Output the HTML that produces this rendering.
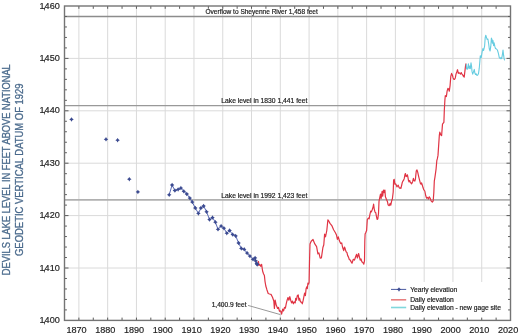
<!DOCTYPE html>
<html><head><meta charset="utf-8"><title>Devils Lake levels</title>
<style>html,body{margin:0;padding:0;background:#fff;width:520px;height:336px;overflow:hidden}svg{display:block;will-change:transform}</style>
</head><body>
<svg width="520" height="336" viewBox="0 0 520 336"><rect width="520" height="336" fill="#fff"/><path d="M78.89 6.0V320.4M107.66 6.0V320.4M136.44 6.0V320.4M165.21 6.0V320.4M193.98 6.0V320.4M222.76 6.0V320.4M251.53 6.0V320.4M280.31 6.0V320.4M309.08 6.0V320.4M337.85 6.0V320.4M366.63 6.0V320.4M395.40 6.0V320.4M424.18 6.0V320.4M452.95 6.0V320.4M481.73 6.0V320.4M64.5 268.00H510.5M64.5 215.60H510.5M64.5 163.20H510.5M64.5 110.80H510.5M64.5 58.40H510.5" stroke="#dadada" stroke-width="1" fill="none"/><rect x="385" y="282" width="124.5" height="37.39999999999998" fill="#fff"/><path d="M64.5 16.48H510.5" stroke="#8c8c8c" stroke-width="1.3" fill="none"/><path d="M64.5 105.56H510.5" stroke="#999" stroke-width="1.3" fill="none"/><path d="M64.5 199.88H510.5" stroke="#b0b0b0" stroke-width="1.6" fill="none"/><path d="M78.89 320.4v-2.8M78.89 6.0v2.8M93.27 320.4v-2.8M93.27 6.0v2.8M107.66 320.4v-2.8M107.66 6.0v2.8M122.05 320.4v-2.8M122.05 6.0v2.8M136.44 320.4v-2.8M136.44 6.0v2.8M150.82 320.4v-2.8M150.82 6.0v2.8M165.21 320.4v-2.8M165.21 6.0v2.8M179.60 320.4v-2.8M179.60 6.0v2.8M193.98 320.4v-2.8M193.98 6.0v2.8M208.37 320.4v-2.8M208.37 6.0v2.8M222.76 320.4v-2.8M222.76 6.0v2.8M237.15 320.4v-2.8M237.15 6.0v2.8M251.53 320.4v-2.8M251.53 6.0v2.8M265.92 320.4v-2.8M265.92 6.0v2.8M280.31 320.4v-2.8M280.31 6.0v2.8M294.69 320.4v-2.8M294.69 6.0v2.8M309.08 320.4v-2.8M309.08 6.0v2.8M323.47 320.4v-2.8M323.47 6.0v2.8M337.85 320.4v-2.8M337.85 6.0v2.8M352.24 320.4v-2.8M352.24 6.0v2.8M366.63 320.4v-2.8M366.63 6.0v2.8M381.02 320.4v-2.8M381.02 6.0v2.8M395.40 320.4v-2.8M395.40 6.0v2.8M409.79 320.4v-2.8M409.79 6.0v2.8M424.18 320.4v-2.8M424.18 6.0v2.8M438.56 320.4v-2.8M438.56 6.0v2.8M452.95 320.4v-2.8M452.95 6.0v2.8M467.34 320.4v-2.8M467.34 6.0v2.8M481.73 320.4v-2.8M481.73 6.0v2.8M496.11 320.4v-2.8M496.11 6.0v2.8M64.5 309.92h2.4M510.5 309.92h-2.4M64.5 299.44h2.4M510.5 299.44h-2.4M64.5 288.96h2.4M510.5 288.96h-2.4M64.5 278.48h2.4M510.5 278.48h-2.4M64.5 268.00h4M510.5 268.00h-4M64.5 257.52h2.4M510.5 257.52h-2.4M64.5 247.04h2.4M510.5 247.04h-2.4M64.5 236.56h2.4M510.5 236.56h-2.4M64.5 226.08h2.4M510.5 226.08h-2.4M64.5 215.60h4M510.5 215.60h-4M64.5 205.12h2.4M510.5 205.12h-2.4M64.5 194.64h2.4M510.5 194.64h-2.4M64.5 184.16h2.4M510.5 184.16h-2.4M64.5 173.68h2.4M510.5 173.68h-2.4M64.5 163.20h4M510.5 163.20h-4M64.5 152.72h2.4M510.5 152.72h-2.4M64.5 142.24h2.4M510.5 142.24h-2.4M64.5 131.76h2.4M510.5 131.76h-2.4M64.5 121.28h2.4M510.5 121.28h-2.4M64.5 110.80h4M510.5 110.80h-4M64.5 100.32h2.4M510.5 100.32h-2.4M64.5 89.84h2.4M510.5 89.84h-2.4M64.5 79.36h2.4M510.5 79.36h-2.4M64.5 68.88h2.4M510.5 68.88h-2.4M64.5 58.40h4M510.5 58.40h-4M64.5 47.92h2.4M510.5 47.92h-2.4M64.5 37.44h2.4M510.5 37.44h-2.4M64.5 26.96h2.4M510.5 26.96h-2.4M64.5 16.48h2.4M510.5 16.48h-2.4" stroke="#5a5a5a" stroke-width="1" fill="none"/><rect x="64.5" y="6.0" width="446.0" height="314.4" fill="none" stroke="#747474" stroke-width="1.4"/><path d="M248 305.4L280.4 314.6" stroke="#8c8c8c" stroke-width="0.9" fill="none"/><polyline points="257.7,261.4 258.5,261.5 258.8,265.3 259.8,264.4 260.7,266.3 261.6,264.4 262.6,271.0 263.5,273.8 264.4,275.6 265.0,281.3 265.8,286.0 266.9,289.7 268.2,293.5 269.5,294.0 271.0,294.4 272.5,297.2 273.8,301.0 274.4,308.5 275.1,300.0 276.3,305.3 277.6,308.5 278.5,307.5 279.5,311.3 280.4,310.8 280.9,311.5 281.6,314.2 282.7,309.1 283.6,310.9 284.5,307.3 285.4,308.2 286.2,303.8 287.1,300.2 288.0,297.5 288.9,300.2 289.8,296.6 290.7,300.2 291.6,302.9 292.5,301.1 293.4,303.8 294.3,302.0 295.2,302.9 295.7,298.4 296.4,300.2 297.3,295.7 298.2,294.8 298.9,300.2 299.6,298.4 300.5,302.0 301.4,302.0 302.3,303.8 303.2,300.2 304.1,295.7 304.6,293.0 305.4,295.7 306.1,288.6 306.8,286.8 307.3,288.6 307.9,283.2 308.6,284.1 309.1,282.3 309.5,262.0 310.0,243.9 311.2,241.2 313.0,239.5 314.8,243.9 316.6,246.6 317.9,253.8 318.9,252.9 320.2,258.2 321.4,257.9 322.9,247.5 323.8,244.8 324.6,234.1 325.5,236.8 326.8,230.5 327.9,219.8 328.6,220.7 330.0,223.4 331.8,225.6 333.6,229.8 335.4,232.7 336.5,235.1 337.4,239.3 338.3,236.9 339.5,241.1 340.7,243.5 341.7,242.9 342.5,247.0 343.7,250.6 344.5,247.0 345.2,248.8 346.1,251.8 346.9,252.4 347.6,255.4 348.5,257.1 349.3,259.5 350.2,260.1 351.2,261.9 352.0,263.2 353.3,259.3 354.5,260.1 355.6,256.8 356.6,254.3 357.4,258.0 358.6,253.5 359.4,256.8 360.2,260.1 361.0,258.9 361.8,261.7 362.8,262.5 363.8,264.2 364.5,260.9 364.8,241.2 365.1,233.9 365.9,232.2 366.6,230.6 367.3,219.5 368.3,218.2 369.1,218.8 370.0,214.1 370.7,211.1 371.4,211.9 372.3,209.5 373.1,206.8 373.6,204.1 374.2,208.8 375.0,212.1 375.8,212.8 376.4,216.1 377.1,219.5 377.8,218.8 378.5,213.5 379.0,201.4 379.8,197.4 380.5,194.1 381.1,198.7 382.1,191.4 382.7,196.1 383.5,190.0 384.3,192.7 384.9,190.0 385.4,196.7 386.5,199.4 387.4,201.4 388.1,204.8 389.2,205.7 390.1,203.4 390.8,205.2 391.7,200.7 392.4,198.7 393.2,192.0 393.6,180.2 394.2,179.3 394.9,184.2 395.6,183.8 396.3,185.1 396.9,186.9 397.5,186.0 398.2,185.1 399.0,187.3 399.6,188.2 400.2,187.8 400.9,188.4 401.6,185.5 402.3,182.4 402.9,181.1 403.6,180.2 404.3,178.4 404.9,174.8 405.4,173.5 406.1,176.6 406.7,176.2 407.4,174.8 407.9,177.1 408.5,180.6 409.1,182.0 409.7,180.6 410.3,182.0 410.9,182.9 411.5,183.8 412.1,182.9 412.7,181.5 413.4,178.4 414.1,180.6 414.8,181.1 415.4,179.3 415.9,174.4 416.3,170.8 417.0,169.9 417.7,172.1 418.3,174.8 418.8,177.1 419.7,180.6 420.4,183.3 421.0,184.2 421.6,182.9 422.4,185.5 423.1,187.8 423.7,189.6 424.8,191.0 425.7,195.5 426.6,198.2 427.5,197.3 428.4,199.1 429.3,196.8 430.2,198.2 431.1,200.9 432.3,202.1 433.2,200.9 433.8,192.9 434.3,181.2 435.0,176.8 436.1,168.8 436.8,160.7 437.3,158.9 438.0,155.4 439.3,135.7 439.8,132.1 440.7,134.8 441.6,135.7 442.5,124.1 443.4,122.9 443.9,122.3 444.3,110.7 444.9,100.0 445.3,95.7 446.4,96.5 447.1,91.2 447.9,88.3 448.6,89.0 449.3,91.2 450.1,85.3 450.8,76.4 451.6,73.4 452.3,74.9 453.1,77.9 453.8,79.3 454.6,79.3 455.3,77.9 456.0,74.1 456.8,71.9 457.5,69.7 458.3,73.4 459.0,72.6 459.8,73.4 460.5,74.1 461.2,72.6 462.0,74.1 462.7,74.9 463.5,76.4 464.2,77.1 465.0,70.4 465.7,64.5 466.2,63.5" fill="none" stroke="#e03444" stroke-width="1.2" stroke-linejoin="round"/><polyline points="466.2,64.0 466.6,68.7 467.2,69.4 467.9,67.0 468.4,63.9 469.0,68.7 469.6,66.0 470.3,68.7 471.0,62.9 471.6,66.6 472.0,71.4 472.7,74.2 473.4,72.1 474.3,69.4 474.8,72.8 475.5,74.5 476.2,73.8 477.0,75.5 477.9,74.9 478.5,73.5 479.2,68.7 479.8,62.0 480.3,55.7 481.2,57.6 482.2,51.4 482.9,48.6 483.6,50.5 484.6,46.2 485.2,37.6 485.8,35.2 486.5,37.6 487.2,39.5 487.9,39.0 488.6,43.3 489.3,49.0 490.1,51.0 490.8,46.2 491.4,38.1 492.0,39.5 492.4,43.3 493.0,40.5 493.6,45.7 494.1,42.9 494.9,46.7 495.5,48.6 496.5,49.0 497.4,50.0 498.4,53.3 499.3,57.6 500.3,58.6 501.0,57.6 501.7,58.6 502.5,53.8 503.0,50.0 503.6,55.2 504.1,58.6 504.6,60.3" fill="none" stroke="#66cce0" stroke-width="1.1" stroke-linejoin="round"/><polyline points="169.2,194.8 172.1,185.0 174.9,190.5 178.1,189.4 180.9,188.1 183.8,191.3 186.8,194.0 189.8,198.1 192.3,202.1 195.3,208.0 198.4,213.4 200.9,208.0 203.6,206.0 206.6,211.8 209.5,219.6 212.5,217.6 215.4,222.2 218.0,229.3 221.1,226.1 223.9,228.2 226.8,233.2 229.6,230.5 232.7,234.6 235.7,235.9 238.6,243.0 241.3,248.4 244.2,249.3 247.1,253.1 249.9,256.1 253.0,259.3 255.1,257.9 255.6,260.8 256.7,263.4 257.2,264.5" fill="none" stroke="#4658ac" stroke-width="0.9" stroke-linejoin="round"/><g fill="#3b4a90"><path d="M71.50 117.15L72.38 118.52L73.75 119.40L72.38 120.28L71.50 121.65L70.62 120.28L69.25 119.40L70.62 118.52Z"/><path d="M106.00 137.05L106.88 138.42L108.25 139.30L106.88 140.18L106.00 141.55L105.12 140.18L103.75 139.30L105.12 138.42Z"/><path d="M117.60 137.95L118.48 139.32L119.85 140.20L118.48 141.08L117.60 142.45L116.72 141.08L115.35 140.20L116.72 139.32Z"/><path d="M129.30 176.95L130.18 178.32L131.55 179.20L130.18 180.08L129.30 181.45L128.42 180.08L127.05 179.20L128.42 178.32Z"/><path d="M137.90 189.65L138.78 191.02L140.15 191.90L138.78 192.78L137.90 194.15L137.02 192.78L135.65 191.90L137.02 191.02Z"/><path d="M169.20 192.55L170.08 193.92L171.45 194.80L170.08 195.68L169.20 197.05L168.32 195.68L166.95 194.80L168.32 193.92Z"/><path d="M172.10 182.75L172.98 184.12L174.35 185.00L172.98 185.88L172.10 187.25L171.22 185.88L169.85 185.00L171.22 184.12Z"/><path d="M174.90 188.25L175.78 189.62L177.15 190.50L175.78 191.38L174.90 192.75L174.02 191.38L172.65 190.50L174.02 189.62Z"/><path d="M178.10 187.15L178.98 188.52L180.35 189.40L178.98 190.28L178.10 191.65L177.22 190.28L175.85 189.40L177.22 188.52Z"/><path d="M180.90 185.85L181.78 187.22L183.15 188.10L181.78 188.98L180.90 190.35L180.02 188.98L178.65 188.10L180.02 187.22Z"/><path d="M183.80 189.05L184.68 190.42L186.05 191.30L184.68 192.18L183.80 193.55L182.92 192.18L181.55 191.30L182.92 190.42Z"/><path d="M186.80 191.75L187.68 193.12L189.05 194.00L187.68 194.88L186.80 196.25L185.92 194.88L184.55 194.00L185.92 193.12Z"/><path d="M189.80 195.85L190.68 197.22L192.05 198.10L190.68 198.98L189.80 200.35L188.92 198.98L187.55 198.10L188.92 197.22Z"/><path d="M192.30 199.85L193.18 201.22L194.55 202.10L193.18 202.98L192.30 204.35L191.42 202.98L190.05 202.10L191.42 201.22Z"/><path d="M195.30 205.75L196.18 207.12L197.55 208.00L196.18 208.88L195.30 210.25L194.42 208.88L193.05 208.00L194.42 207.12Z"/><path d="M198.40 211.15L199.28 212.52L200.65 213.40L199.28 214.28L198.40 215.65L197.52 214.28L196.15 213.40L197.52 212.52Z"/><path d="M200.90 205.75L201.78 207.12L203.15 208.00L201.78 208.88L200.90 210.25L200.02 208.88L198.65 208.00L200.02 207.12Z"/><path d="M203.60 203.75L204.48 205.12L205.85 206.00L204.48 206.88L203.60 208.25L202.72 206.88L201.35 206.00L202.72 205.12Z"/><path d="M206.60 209.55L207.48 210.92L208.85 211.80L207.48 212.68L206.60 214.05L205.72 212.68L204.35 211.80L205.72 210.92Z"/><path d="M209.50 217.35L210.38 218.72L211.75 219.60L210.38 220.48L209.50 221.85L208.62 220.48L207.25 219.60L208.62 218.72Z"/><path d="M212.50 215.35L213.38 216.72L214.75 217.60L213.38 218.48L212.50 219.85L211.62 218.48L210.25 217.60L211.62 216.72Z"/><path d="M215.40 219.95L216.28 221.32L217.65 222.20L216.28 223.08L215.40 224.45L214.52 223.08L213.15 222.20L214.52 221.32Z"/><path d="M218.00 227.05L218.88 228.42L220.25 229.30L218.88 230.18L218.00 231.55L217.12 230.18L215.75 229.30L217.12 228.42Z"/><path d="M221.10 223.85L221.98 225.22L223.35 226.10L221.98 226.98L221.10 228.35L220.22 226.98L218.85 226.10L220.22 225.22Z"/><path d="M223.90 225.95L224.78 227.32L226.15 228.20L224.78 229.08L223.90 230.45L223.02 229.08L221.65 228.20L223.02 227.32Z"/><path d="M226.80 230.95L227.68 232.32L229.05 233.20L227.68 234.08L226.80 235.45L225.92 234.08L224.55 233.20L225.92 232.32Z"/><path d="M229.60 228.25L230.48 229.62L231.85 230.50L230.48 231.38L229.60 232.75L228.72 231.38L227.35 230.50L228.72 229.62Z"/><path d="M232.70 232.35L233.58 233.72L234.95 234.60L233.58 235.48L232.70 236.85L231.82 235.48L230.45 234.60L231.82 233.72Z"/><path d="M235.70 233.65L236.58 235.02L237.95 235.90L236.58 236.78L235.70 238.15L234.82 236.78L233.45 235.90L234.82 235.02Z"/><path d="M238.60 240.75L239.48 242.12L240.85 243.00L239.48 243.88L238.60 245.25L237.72 243.88L236.35 243.00L237.72 242.12Z"/><path d="M241.30 246.15L242.18 247.52L243.55 248.40L242.18 249.28L241.30 250.65L240.42 249.28L239.05 248.40L240.42 247.52Z"/><path d="M244.20 247.05L245.08 248.42L246.45 249.30L245.08 250.18L244.20 251.55L243.32 250.18L241.95 249.30L243.32 248.42Z"/><path d="M247.10 250.85L247.98 252.22L249.35 253.10L247.98 253.98L247.10 255.35L246.22 253.98L244.85 253.10L246.22 252.22Z"/><path d="M249.90 253.85L250.78 255.22L252.15 256.10L250.78 256.98L249.90 258.35L249.02 256.98L247.65 256.10L249.02 255.22Z"/><path d="M253.00 257.05L253.88 258.42L255.25 259.30L253.88 260.18L253.00 261.55L252.12 260.18L250.75 259.30L252.12 258.42Z"/><path d="M255.10 255.65L255.98 257.02L257.35 257.90L255.98 258.78L255.10 260.15L254.22 258.78L252.85 257.90L254.22 257.02Z"/><path d="M255.60 258.55L256.48 259.92L257.85 260.80L256.48 261.68L255.60 263.05L254.72 261.68L253.35 260.80L254.72 259.92Z"/><path d="M256.70 261.15L257.58 262.52L258.95 263.40L257.58 264.28L256.70 265.65L255.82 264.28L254.45 263.40L255.82 262.52Z"/><path d="M257.20 262.25L258.08 263.62L259.45 264.50L258.08 265.38L257.20 266.75L256.32 265.38L254.95 264.50L256.32 263.62Z"/></g><g font-family="Liberation Sans, sans-serif" font-size="6.6" fill="#1a1a1a" stroke="#1a1a1a" stroke-width="0.18"><text x="205.5" y="13.6" textLength="112.3" lengthAdjust="spacingAndGlyphs">Overflow to Sheyenne River 1,458 feet</text><text x="221.3" y="103.4" textLength="86.1" lengthAdjust="spacingAndGlyphs">Lake level in 1830 1,441 feet</text><text x="221.3" y="198.4" textLength="86.1" lengthAdjust="spacingAndGlyphs">Lake level in 1992 1,423 feet</text><text x="211.7" y="307.4">1,400.9 feet</text><text x="410.2" y="292.2" font-size="6.7">Yearly elevation</text><text x="410.2" y="302.4" font-size="6.7">Daily elevation</text><text x="410.2" y="309.9" font-size="6.7">Daily elevation - new gage site</text></g><path d="M391 289.4H406.2" stroke="#4a5aa0" stroke-width="1"/><g fill="#3b4a90"><path d="M399.00 287.15L399.88 288.52L401.25 289.40L399.88 290.28L399.00 291.65L398.12 290.28L396.75 289.40L398.12 288.52Z"/></g><path d="M391 299.8H406.2" stroke="#e88080" stroke-width="1.6"/><path d="M391 307.5H406.2" stroke="#80d8dc" stroke-width="1.6"/><g font-family="Liberation Sans, sans-serif" font-size="9.1" fill="#1e1e1e" stroke="#1e1e1e" stroke-width="0.18"><text x="76.5" y="332.5" text-anchor="middle">1870</text><text x="105.3" y="332.5" text-anchor="middle">1880</text><text x="134.0" y="332.5" text-anchor="middle">1890</text><text x="162.8" y="332.5" text-anchor="middle">1900</text><text x="191.6" y="332.5" text-anchor="middle">1910</text><text x="220.4" y="332.5" text-anchor="middle">1920</text><text x="249.1" y="332.5" text-anchor="middle">1930</text><text x="277.9" y="332.5" text-anchor="middle">1940</text><text x="306.7" y="332.5" text-anchor="middle">1950</text><text x="335.5" y="332.5" text-anchor="middle">1960</text><text x="364.2" y="332.5" text-anchor="middle">1970</text><text x="393.0" y="332.5" text-anchor="middle">1980</text><text x="421.8" y="332.5" text-anchor="middle">1990</text><text x="450.6" y="332.5" text-anchor="middle">2000</text><text x="479.3" y="332.5" text-anchor="middle">2010</text><text x="508.1" y="332.5" text-anchor="middle">2020</text><text x="59.8" y="322.9" text-anchor="end">1<tspan dx="-1.3">,</tspan><tspan dx="-1.1">400</tspan></text><text x="59.8" y="270.5" text-anchor="end">1<tspan dx="-1.3">,</tspan><tspan dx="-1.1">410</tspan></text><text x="59.8" y="218.1" text-anchor="end">1<tspan dx="-1.3">,</tspan><tspan dx="-1.1">420</tspan></text><text x="59.8" y="165.7" text-anchor="end">1<tspan dx="-1.3">,</tspan><tspan dx="-1.1">430</tspan></text><text x="59.8" y="113.3" text-anchor="end">1<tspan dx="-1.3">,</tspan><tspan dx="-1.1">440</tspan></text><text x="59.8" y="60.9" text-anchor="end">1<tspan dx="-1.3">,</tspan><tspan dx="-1.1">450</tspan></text><text x="59.8" y="8.5" text-anchor="end">1<tspan dx="-1.3">,</tspan><tspan dx="-1.1">460</tspan></text></g><g font-family="Liberation Sans, sans-serif" font-size="10.1" fill="#4a6a8c" stroke="#4a6a8c" stroke-width="0.3" text-anchor="middle"><text transform="translate(10.0,169.7) rotate(-90)" textLength="211" lengthAdjust="spacingAndGlyphs">DEVILS LAKE LEVEL IN FEET ABOVE NATIONAL</text><text transform="translate(23.4,169.7) rotate(-90)" textLength="172.6" lengthAdjust="spacingAndGlyphs">GEODETIC VERTICAL DATUM OF 1929</text></g></svg>
</body></html>
